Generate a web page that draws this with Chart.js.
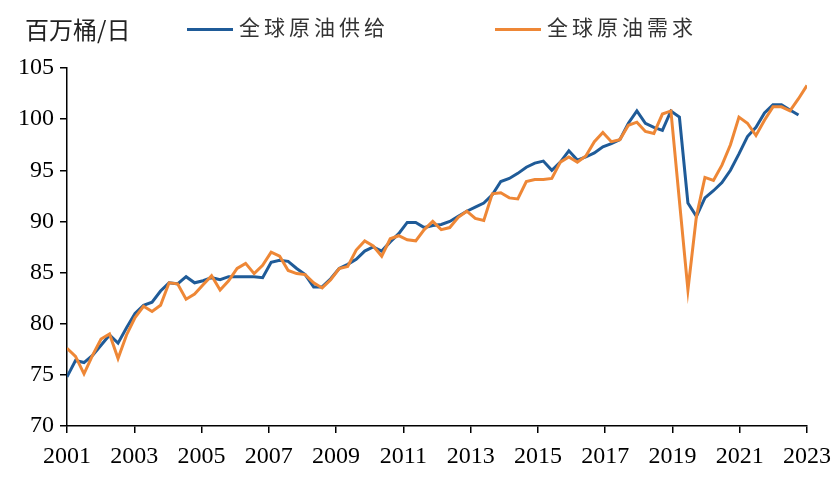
<!DOCTYPE html>
<html>
<head>
<meta charset="utf-8">
<script src="https://cdn.jsdelivr.net/npm/chart.js@4.4.1/dist/chart.umd.min.js"></script>
<style>
  body { margin: 0; background: #fff; }
  #wrap { position: relative; width: 840px; height: 481px; }
  #unit { position: absolute; left: 25px; top: 11px; font: 24px "Noto Sans CJK SC"; color: #222; }
  .legend-item { position: absolute; top: 11px; font: 21px "Noto Sans CJK SC"; letter-spacing: 4px; color: #333; white-space: nowrap; }
  .swatch { display: inline-block; width: 46px; height: 3px; vertical-align: middle; margin-right: 6px; }
</style>
</head>
<body>
<div id="wrap">
  <canvas id="oilChart" width="840" height="481"></canvas>
  <div id="unit">百万桶/日</div>
  <div class="legend-item" style="left:187px"><span class="swatch" style="background:#1f5b98"></span>全球原油供给</div>
  <div class="legend-item" style="left:495px"><span class="swatch" style="background:#ee8736"></span>全球原油需求</div>
</div>
<script>
// quarterly series, 2001Q1 onwards (mb/d)
const supply = [
  74.8, 76.4, 76.2, 76.9, 77.9, 78.9, 78.1, 79.6, 81.0, 81.8, 82.1, 83.2,
  84.0, 83.9, 84.6, 84.0, 84.2, 84.5, 84.3, 84.6, 84.6, 84.6, 84.6, 84.5,
  86.0, 86.2, 86.1, 85.4, 84.8, 83.6, 83.6, 84.4, 85.4, 85.8, 86.3, 87.1,
  87.5, 87.1, 88.0, 88.8, 89.9, 89.9, 89.4, 89.6, 89.7, 90.0, 90.5, 91.0,
  91.4, 91.8, 92.6, 93.9, 94.2, 94.7, 95.3, 95.7, 95.9, 95.0, 95.8, 96.9,
  96.0, 96.3, 96.7, 97.3, 97.6, 98.0, 99.6, 100.8, 99.6, 99.2, 98.9, 100.8,
  100.2, 91.8, 90.5, 92.3, 93.0, 93.8, 95.0, 96.6, 98.3, 99.2, 100.6, 101.4,
  101.4, 100.9, 100.4
];
const demand = [
  77.6, 76.8, 75.1, 76.9, 78.5, 79.0, 76.6, 78.9, 80.6, 81.7, 81.2, 81.8,
  84.0, 83.9, 82.4, 82.9, 83.8, 84.7, 83.3, 84.2, 85.4, 85.9, 84.9, 85.7,
  87.0, 86.6, 85.2, 84.9, 84.8, 84.0, 83.5, 84.3, 85.4, 85.6, 87.2, 88.1,
  87.6, 86.6, 88.3, 88.6, 88.2, 88.1, 89.2, 90.0, 89.2, 89.4, 90.4, 91.0,
  90.3, 90.1, 92.7, 92.8, 92.3, 92.2, 93.9, 94.1, 94.1, 94.2, 95.8, 96.3,
  95.8, 96.4, 97.8, 98.7, 97.8, 98.0, 99.4, 99.7, 98.8, 98.6, 100.5, 100.8,
  92.0, 83.3, 90.5, 94.3, 94.0, 95.5, 97.5, 100.2, 99.6, 98.4, 99.9, 101.2,
  101.2, 100.8, 102.0, 103.3
];
const yearTicks = [2001, 2003, 2005, 2007, 2009, 2011, 2013, 2015, 2017, 2019, 2021, 2023];
const valueTicks = [70, 75, 80, 85, 90, 95, 100, 105];

const FIRST = yearTicks[0], LAST = yearTicks[yearTicks.length - 1];
const steps = demand.length - 1;
function toPoints(arr) {
  return arr.map((v, i) => ({ x: FIRST + i * (LAST - FIRST) / steps, y: v }));
}

const tickFont = { family: 'Liberation Serif', size: 24 };

new Chart(document.getElementById('oilChart'), {
  type: 'line',
  data: {
    datasets: [{
      label: '全球原油供给',
      data: toPoints(supply),
      borderColor: '#1f5b98',
      order: 2
    }, {
      label: '全球原油需求',
      data: toPoints(demand),
      borderColor: '#ee8736',
      order: 1
    }]
  },
  options: {
    responsive: false,
    animation: false,
    layout: { padding: { top: 68, right: 28, left: 0, bottom: 0 } },
    plugins: { legend: { display: false }, tooltip: { enabled: false } },
    elements: {
      point: { radius: 0 },
      line: { borderWidth: 3, tension: 0 }
    },
    scales: {
      x: {
        type: 'linear',
        min: FIRST,
        max: LAST,
        afterBuildTicks: s => { s.ticks = yearTicks.map(v => ({ value: v })); },
        afterFit: s => { s.height = 55; },
        grid: { drawOnChartArea: false, drawTicks: true, tickLength: 7, color: '#000', lineWidth: 1.5 },
        border: { color: '#000', width: 1.5 },
        ticks: { font: tickFont, color: '#000', padding: 9, maxRotation: 0, autoSkip: false, callback: v => String(v) }
      },
      y: {
        min: 70,
        max: 105,
        afterBuildTicks: s => { s.ticks = valueTicks.map(v => ({ value: v })); },
        afterFit: s => { s.width = 67; },
        grid: { drawOnChartArea: false, drawTicks: true, tickLength: 7, color: '#000', lineWidth: 1.5 },
        border: { color: '#000', width: 1.5 },
        ticks: { font: tickFont, color: '#000', padding: 6 }
      }
    }
  }
});
</script>
</body>
</html>
